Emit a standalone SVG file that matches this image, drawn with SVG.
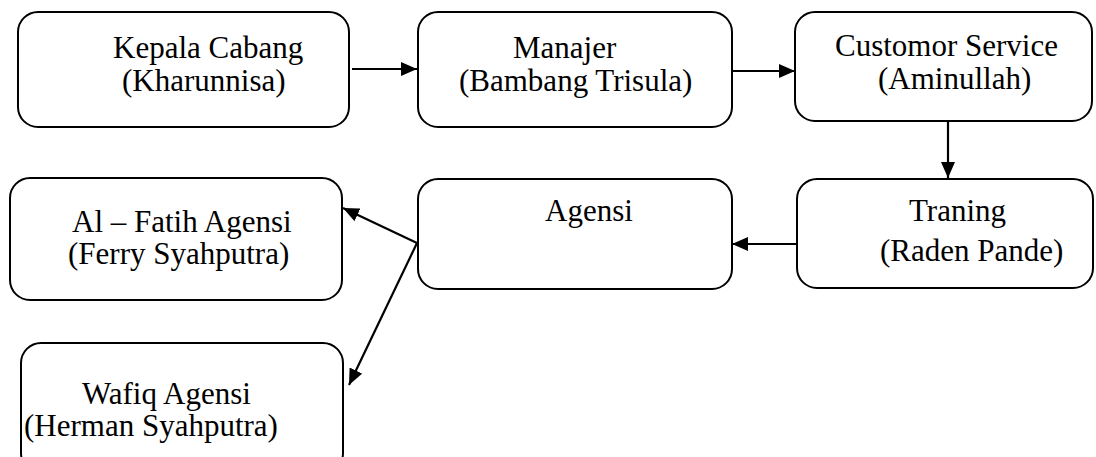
<svg xmlns="http://www.w3.org/2000/svg" width="1096" height="457" viewBox="0 0 1096 457">
<style>
.box{fill:#fff;stroke:#000;stroke-width:2}
.t{font-family:'Liberation Serif',Tinos,'DejaVu Serif',serif;font-size:31px;fill:#000}
.c{stroke:#000;stroke-width:2.2;fill:none}
</style>
<defs>
<marker id="ah" viewBox="0 0 16 14" refX="16" refY="7" markerWidth="16" markerHeight="14" markerUnits="userSpaceOnUse" orient="auto">
<path d="M0,0 L16,7 L0,14 Z" fill="#000"/>
</marker>
</defs>
<rect width="1096" height="457" fill="#fff"/>
<g id="kepala"><rect class="box" x="18" y="12" width="331" height="115" rx="20"/>
<text class="t" x="113" y="58">Kepala Cabang</text><text class="t" x="122" y="91">(Kharunnisa)</text></g>
<g id="manajer"><rect class="box" x="418" y="12" width="314" height="115" rx="20"/>
<text class="t" x="513" y="58">Manajer</text><text class="t" x="459" y="91">(Bambang Trisula)</text></g>
<g id="cs"><rect class="box" x="795" y="12" width="297" height="109" rx="20"/>
<text class="t" x="835" y="56">Customor Service</text><text class="t" x="878" y="89">(Aminullah)</text></g>
<g id="traning"><rect class="box" x="797" y="179" width="296" height="109" rx="20"/>
<text class="t" x="909" y="221">Traning</text><text class="t" x="880" y="261">(Raden Pande)</text></g>
<g id="agensi"><rect class="box" x="418" y="179" width="314" height="110" rx="20"/>
<text class="t" x="545" y="221">Agensi</text></g>
<g id="alfatih"><rect class="box" x="10" y="178" width="332" height="122" rx="20"/>
<text class="t" x="72" y="232">Al – Fatih Agensi</text><text class="t" x="68" y="264">(Ferry Syahputra)</text></g>
<g id="wafiq"><rect class="box" x="21" y="343" width="322" height="130" rx="20"/>
<text class="t" x="82" y="404">Wafiq Agensi</text><text class="t" x="24" y="436">(Herman Syahputra)</text></g>
<g id="connectors">
<line class="c" x1="352" y1="69" x2="417" y2="69" marker-end="url(#ah)"/>
<line class="c" x1="733" y1="71" x2="795" y2="71" marker-end="url(#ah)"/>
<line class="c" x1="948" y1="121" x2="948" y2="178" marker-end="url(#ah)"/>
<line class="c" x1="797" y1="244" x2="732" y2="244" marker-end="url(#ah)"/>
<line class="c" x1="417" y1="243" x2="343" y2="208" marker-end="url(#ah)"/>
<line class="c" x1="417" y1="243" x2="349" y2="385" marker-end="url(#ah)"/>
</g>
</svg>
